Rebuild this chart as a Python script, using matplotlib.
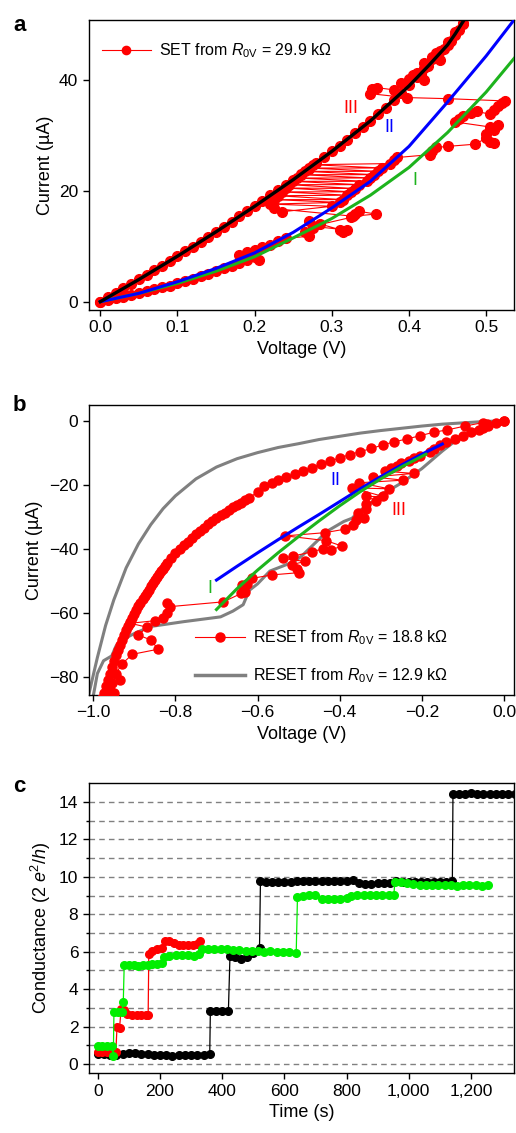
import matplotlib
matplotlib.use("Agg")
import matplotlib.pyplot as plt
import numpy as np

plt.rcParams['font.family'] = ['Liberation Sans', 'DejaVu Sans']
plt.rcParams['mathtext.fontset'] = 'custom'
plt.rcParams['mathtext.rm'] = 'Liberation Sans'
plt.rcParams['mathtext.it'] = 'Liberation Sans:italic'
plt.rcParams['axes.linewidth'] = 1.0

RED = '#ff0000'
BLUE = '#0000ff'
GREEN = '#1db31d'
LIME = '#00ee00'
GRAY = '#808080'

# ---------------- panel a : SET ----------------
fit3_v = [0.0, 0.05, 0.10, 0.15, 0.20, 0.25, 0.30, 0.35, 0.40, 0.425, 0.45, 0.46, 0.47]
fit3_i = [0.0, 4.0, 8.2, 12.6, 17.2, 22.0, 27.1, 32.6, 38.9, 42.5, 46.3, 48.3, 50.5]
fit2_v = [0.0, 0.05, 0.10, 0.15, 0.20, 0.25, 0.30, 0.35, 0.40, 0.45, 0.50, 0.54]
fit2_i = [0.0, 1.5, 3.6, 6.0, 8.8, 12.5, 16.9, 21.7, 28.0, 36.0, 44.3, 51.5]
fit1_v = [0.0, 0.05, 0.10, 0.15, 0.20, 0.25, 0.30, 0.35, 0.40, 0.45, 0.50, 0.54]
fit1_i = [0.0, 1.5, 3.3, 5.5, 8.1, 11.5, 15.0, 19.2, 24.2, 30.5, 37.8, 44.5]

set_up_v = [0.00, 0.01, 0.02, 0.03, 0.04, 0.05, 0.06, 0.07, 0.08, 0.09, 0.10,
            0.11, 0.12, 0.13, 0.14, 0.15, 0.16, 0.17, 0.18, 0.19, 0.20]
set_up_i = [0.0, 0.3, 0.6, 0.9, 1.2, 1.5, 1.9, 2.2, 2.6, 2.9, 3.3,
            3.7, 4.1, 4.6, 5.0, 5.5, 6.0, 6.5, 7.0, 7.5, 8.0]
set_sw_v = [0.205, 0.18, 0.19, 0.20, 0.21, 0.22, 0.23, 0.24,
            0.27, 0.265, 0.275, 0.285, 0.27, 0.31, 0.315, 0.32, 0.275,
            0.325, 0.33, 0.335, 0.357, 0.328,
            0.225, 0.235, 0.30, 0.22, 0.31, 0.225, 0.315, 0.23, 0.32, 0.235, 0.325,
            0.24, 0.33, 0.245, 0.335, 0.25, 0.345, 0.255, 0.35, 0.26, 0.355,
            0.265, 0.36, 0.27, 0.365, 0.275, 0.375, 0.38, 0.385,
            0.427, 0.43, 0.435, 0.45, 0.486, 0.50, 0.505, 0.51, 0.50, 0.51, 0.515, 0.505,
            0.46, 0.465, 0.47, 0.48, 0.488, 0.505, 0.51, 0.515, 0.52, 0.524,
            0.451, 0.397, 0.35, 0.352, 0.358, 0.38, 0.39, 0.40, 0.405, 0.41, 0.415,
            0.42, 0.425, 0.42, 0.43, 0.435, 0.44, 0.445, 0.45, 0.455, 0.46, 0.465, 0.47]
set_sw_i = [7.6, 8.4, 8.9, 9.3, 9.8, 10.3, 10.9, 11.4,
            11.8, 12.5, 13.2, 14.0, 14.6, 13.0, 12.6, 12.9, 13.6,
            15.2, 15.8, 16.3, 15.8, 15.4,
            16.8, 16.2, 17.2, 17.6, 17.9, 18.4, 18.4, 19.1, 19.2, 19.8, 19.8,
            20.5, 20.4, 21.1, 21.1, 21.7, 21.7, 22.3, 22.3, 22.9, 22.9,
            23.5, 23.5, 24.1, 24.1, 24.7, 24.9, 25.5, 26.0,
            26.5, 27.2, 27.8, 28.0, 28.4, 29.5, 28.8, 28.6, 30.2, 31.0, 31.8, 31.5,
            32.4, 33.0, 33.5, 34.0, 34.3, 33.8, 34.6, 35.2, 35.8, 36.2,
            36.6, 36.8, 37.5, 38.3, 38.6, 38.2, 39.5, 40.2, 40.8, 41.3, 41.0,
            40.0, 42.5, 43.0, 44.2, 44.8, 43.6, 45.5, 46.2, 47.0, 48.0, 49.0, 50.0]
set_dn_v = [0.47, 0.46, 0.45, 0.44, 0.43, 0.42, 0.41, 0.40, 0.39, 0.38, 0.37, 0.36,
            0.35, 0.34, 0.33, 0.32, 0.31, 0.30, 0.29, 0.28, 0.27, 0.26, 0.25, 0.24,
            0.23, 0.22, 0.21, 0.20, 0.19, 0.18, 0.17, 0.16, 0.15, 0.14, 0.13, 0.12,
            0.11, 0.10, 0.09, 0.08, 0.07, 0.06, 0.05, 0.04, 0.03, 0.02, 0.01, 0.00]
set_dn_i = [50.3, 48.6, 46.8, 45.2, 43.8, 42.2, 40.6, 39.0, 37.7, 36.4, 35.0, 33.8,
            32.6, 31.5, 30.4, 29.2, 28.1, 27.1, 26.0, 25.0, 24.0, 23.0, 22.0, 21.1,
            20.1, 19.2, 18.2, 17.2, 16.3, 15.4, 14.4, 13.5, 12.6, 11.7, 10.8, 9.9,
            9.1, 8.2, 7.4, 6.5, 5.7, 4.8, 4.0, 3.2, 2.4, 1.6, 0.8, 0.0]

# ---------------- panel b : RESET ----------------
gray_lo_v = [0.0, -0.04, -0.10, -0.15, -0.20, -0.25, -0.28, -0.30, -0.33, -0.35, -0.37,
             -0.39, -0.41, -0.43, -0.45, -0.47, -0.49, -0.51, -0.54, -0.57, -0.60, -0.62,
             -0.635, -0.66, -0.69, -0.78, -0.86, -0.90, -0.93, -0.945, -0.955, -0.975, -0.99, -1.00]
gray_lo_i = [0.0, -1.3, -4.5, -9.5, -15.0, -19.5, -21.8, -23.0, -26.5, -28.0, -30.5,
             -31.5, -33.0, -34.5, -37.0, -39.5, -42.0, -44.0, -45.5, -47.0, -51.0, -53.0,
             -57.5, -59.5, -61.3, -62.8, -64.3, -66.5, -68.5, -70.5, -73.5, -75.0, -79.0, -86.0]
gray_hi_v = [0.0, -0.05, -0.10, -0.15, -0.20, -0.25, -0.30, -0.35, -0.40, -0.45, -0.50,
             -0.55, -0.60, -0.65, -0.70, -0.75, -0.80, -0.83, -0.86, -0.89, -0.92, -0.95,
             -0.97, -0.99, -1.01]
gray_hi_i = [0.0, -0.3, -0.7, -1.1, -1.7, -2.4, -3.1, -3.9, -4.9, -5.9, -7.2,
             -8.4, -10.0, -11.9, -14.5, -18.2, -23.5, -27.5, -32.5, -38.5, -46.0, -56.0,
             -64.0, -74.0, -85.0]
fitb2_v = [-0.70, -0.65, -0.60, -0.55, -0.50, -0.45, -0.40, -0.35, -0.30, -0.25, -0.20, -0.15]
fitb2_i = [-49.8, -45.5, -41.3, -37.2, -33.2, -29.3, -25.3, -21.3, -17.5, -13.9, -10.5, -7.3]
fitb1_v = [-0.70, -0.65, -0.60, -0.55, -0.50, -0.45, -0.40, -0.35, -0.30, -0.25, -0.19]
fitb1_i = [-59.0, -52.5, -46.7, -41.3, -36.2, -31.3, -26.6, -22.2, -18.2, -14.5, -10.5]

reset_lo_v = [0.0, -0.02, -0.04, -0.05, -0.06, -0.08, -0.10, -0.12, -0.14, -0.155, -0.17,
              -0.18, -0.205, -0.22, -0.23, -0.25, -0.26, -0.275, -0.29, -0.22, -0.32,
              -0.245, -0.352, -0.28, -0.37, -0.294, -0.335, -0.312, -0.336, -0.336, -0.355,
              -0.34, -0.36, -0.367, -0.387, -0.436, -0.532, -0.433, -0.394, -0.422, -0.44,
              -0.468, -0.513, -0.539, -0.485, -0.517, -0.505, -0.50, -0.566, -0.614, -0.626,
              -0.639, -0.63, -0.64, -0.683, -0.813, -0.82, -0.82, -0.83, -0.85, -0.91,
              -0.87, -0.89, -0.86, -0.842, -0.905, -0.93, -0.945, -0.935, -0.955, -0.95,
              -0.965, -0.96, -0.975]
reset_lo_i = [0.0, -0.8, -1.6, -2.4, -3.0, -3.6, -4.7, -5.7, -6.6, -7.7, -8.8,
              -9.8, -11.0, -11.8, -12.5, -13.2, -14.3, -14.8, -15.8, -16.5, -17.6,
              -18.6, -19.4, -21.3, -21.0, -23.7, -23.7, -25.0, -26.0, -27.5, -28.7,
              -30.5, -31.0, -32.6, -33.9, -35.0, -36.0, -37.5, -39.2, -40.4, -40.0,
              -41.0, -42.3, -43.0, -44.0, -45.0, -46.5, -47.5, -48.2, -49.3, -51.0,
              -51.3, -53.4, -54.0, -56.6, -58.1, -57.0, -60.0, -61.5, -62.5, -63.3,
              -64.5, -67.0, -68.5, -71.4, -73.0, -76.0, -79.0, -81.0, -82.0, -85.0,
              -87.0, -84.0, -87.0]
reset_hi_v = [-0.98, -0.975, -0.97, -0.965, -0.96, -0.955, -0.95, -0.945, -0.94, -0.935,
              -0.93, -0.925, -0.92, -0.915, -0.91, -0.905, -0.90, -0.895, -0.89, -0.885,
              -0.88, -0.875, -0.87, -0.865, -0.86, -0.855, -0.85, -0.845, -0.84, -0.835,
              -0.83, -0.825, -0.82, -0.81, -0.80, -0.79, -0.78, -0.77,
              -0.76, -0.75, -0.74, -0.73, -0.72, -0.71, -0.70, -0.69, -0.68, -0.67, -0.66,
              -0.65, -0.64, -0.63, -0.62, -0.60, -0.584, -0.565, -0.549, -0.53, -0.51,
              -0.49, -0.468, -0.445, -0.424, -0.40, -0.376, -0.35, -0.323, -0.295, -0.267,
              -0.235, -0.204, -0.17, -0.138, -0.095, -0.05, -0.042, 0.0]
reset_hi_i = [-87.0, -85.0, -83.0, -81.0, -79.0, -77.0, -75.0, -73.2, -71.5, -70.0,
              -68.5, -67.0, -65.5, -64.1, -62.8, -61.5, -60.3, -59.1, -58.0, -56.9,
              -55.8, -54.8, -53.8, -52.8, -51.8, -50.8, -49.8, -48.9, -48.0, -47.1,
              -46.2, -45.3, -44.5, -43.0, -41.5, -40.2, -39.0, -37.8,
              -36.6, -35.5, -34.4, -33.4, -32.4, -31.4, -30.5, -29.6, -28.7, -27.9, -27.1,
              -26.3, -25.6, -24.8, -24.1, -22.3, -20.5, -19.5, -18.5, -17.7, -16.7,
              -15.7, -14.7, -13.6, -12.6, -11.7, -10.6, -9.7, -8.7, -7.6, -6.6,
              -5.7, -4.7, -3.6, -2.9, -1.7, -0.6, -1.0, 0.0]

# ---------------- panel c : conductance ----------------
blk_t = [0, 20, 40, 60, 80, 100, 120, 140, 160, 180, 200, 220, 240, 260, 280, 300, 320, 340, 360,
         362, 380, 400, 420,
         425, 440, 460, 480, 500, 520,
         523, 540, 560, 580, 600, 620, 640, 660, 680, 700, 720, 740, 760, 780, 800, 820,
         840, 860, 880, 900, 920, 940, 960, 980, 1000, 1020, 1040, 1060, 1080, 1100, 1120, 1140,
         1142, 1160, 1180, 1200, 1220, 1240, 1260, 1280, 1300, 1320, 1340]
blk_g = [0.55, 0.55, 0.5, 0.5, 0.55, 0.6, 0.6, 0.55, 0.55, 0.5, 0.5, 0.5, 0.45, 0.5, 0.5, 0.5, 0.5, 0.5, 0.55,
         2.85, 2.85, 2.85, 2.85,
         5.75, 5.7, 5.6, 5.7, 5.95, 6.2,
         9.75, 9.7, 9.7, 9.7, 9.7, 9.7, 9.75, 9.8, 9.8, 9.8, 9.8, 9.8, 9.8, 9.8, 9.8, 9.85,
         9.65, 9.6, 9.6, 9.65, 9.65, 9.65, 9.75, 9.7, 9.7, 9.7, 9.7, 9.7, 9.7, 9.7, 9.7, 9.75,
         14.45, 14.45, 14.45, 14.5, 14.45, 14.45, 14.45, 14.4, 14.45, 14.45, 14.45]
red_t = [0, 15, 30, 45, 58, 62, 70, 75, 85, 95, 110, 125, 140, 155, 162,
         164, 175, 190, 205, 215, 230, 245, 260, 275, 290, 305, 320, 330]
red_g = [0.65, 0.65, 0.65, 0.65, 0.65, 2.0, 1.9, 2.95, 2.9, 2.65, 2.6, 2.6, 2.6, 2.6, 2.6,
         5.85, 6.05, 6.15, 6.2, 6.55, 6.55, 6.45, 6.35, 6.35, 6.35, 6.35, 6.4, 6.55]
grn_t = [0, 15, 30, 45, 50, 52, 65, 78, 82, 85, 100, 115, 130, 145, 160, 175, 190, 205,
         212, 230, 250, 270, 290, 310, 325, 335, 355, 375, 395, 415, 435, 455, 475, 495,
         515, 535, 555, 575, 595, 615, 638, 642, 660, 680, 700, 720, 740, 760, 780, 800,
         815, 835, 855, 875, 895, 915, 935, 952, 955, 975, 995, 1015, 1035, 1055, 1075,
         1095, 1115, 1135, 1155, 1175, 1195, 1215, 1235, 1255]
grn_g = [0.95, 0.95, 0.95, 0.95, 0.45, 2.75, 2.75, 2.8, 3.3, 5.3, 5.3, 5.3, 5.25, 5.3, 5.3, 5.35, 5.35, 5.4,
         5.7, 5.75, 5.8, 5.8, 5.8, 5.75, 5.85, 6.15, 6.15, 6.15, 6.15, 6.15, 6.1, 6.1, 6.05, 6.05,
         6.05, 6.0, 6.05, 6.0, 6.0, 6.0, 5.95, 8.9, 9.0, 9.05, 9.05, 8.8, 8.8, 8.8, 8.8, 8.85,
         9.0, 9.05, 9.05, 9.05, 9.05, 9.05, 9.05, 9.05, 9.7, 9.7, 9.65, 9.6, 9.55, 9.55, 9.55,
         9.55, 9.55, 9.55, 9.5, 9.55, 9.55, 9.55, 9.5, 9.55]

fig = plt.figure(figsize=(5.16, 11.33), dpi=100)
ax_a = fig.add_axes([0.172, 0.7264, 0.824, 0.256])
ax_b = fig.add_axes([0.172, 0.3866, 0.824, 0.256])
ax_c = fig.add_axes([0.172, 0.0527, 0.824, 0.256])

for ax in (ax_a, ax_b, ax_c):
    ax.tick_params(direction='out', length=4, width=1, labelsize=12.5)

# panel a
set_v = np.concatenate([set_up_v, set_sw_v, set_dn_v])
set_i = np.concatenate([set_up_i, set_sw_i, set_dn_i])
ax_a.plot(set_v, set_i, '-o', color=RED, lw=0.8, ms=7, mec=RED,
          label=r'SET from $R_{\rm 0V}$ = 29.9 k$\Omega$', zorder=2)
ax_a.plot(fit1_v, fit1_i, color=GREEN, lw=2.2, zorder=3)
ax_a.plot(fit2_v, fit2_i, color=BLUE, lw=2.2, zorder=3)
ax_a.plot(fit3_v, fit3_i, color='black', lw=2.4, zorder=4)
ax_a.text(0.325, 34.9, 'III', color=RED, fontsize=13, ha='center', va='center')
ax_a.text(0.375, 31.4, 'II', color=BLUE, fontsize=13, ha='center', va='center')
ax_a.text(0.407, 21.8, 'I', color=GREEN, fontsize=13, ha='center', va='center')
ax_a.set_xlim(-0.015, 0.536)
ax_a.set_ylim(-1.5, 50.8)
ax_a.set_xticks([0.0, 0.1, 0.2, 0.3, 0.4, 0.5])
ax_a.set_yticks([0, 20, 40])
ax_a.set_xlabel('Voltage (V)', fontsize=13)
ax_a.set_ylabel('Current (\u00b5A)', fontsize=13)
ax_a.legend(loc='upper left', bbox_to_anchor=(0.03, 0.925), frameon=False,
            fontsize=11.5, handlelength=3.1, handletextpad=0.5, borderpad=0,
            borderaxespad=0, markerscale=0.85)

# panel b
ax_b.plot(gray_lo_v, gray_lo_i, color=GRAY, lw=2.2, zorder=2)
ax_b.plot(gray_hi_v, gray_hi_i, color=GRAY, lw=2.2, zorder=2)
reset_v = np.concatenate([reset_lo_v, reset_hi_v])
reset_i = np.concatenate([reset_lo_i, reset_hi_i])
h_red, = ax_b.plot(reset_v, reset_i, '-o', color=RED, lw=0.8, ms=6.5, mec=RED, zorder=3)
ax_b.plot(fitb2_v, fitb2_i, color=BLUE, lw=2.2, zorder=4)
ax_b.plot(fitb1_v, fitb1_i, color=GREEN, lw=2.2, zorder=4)
h_gray, = ax_b.plot([], [], color=GRAY, lw=2.5)
ax_b.text(-0.411, -18.6, 'II', color=BLUE, fontsize=13, ha='center', va='center')
ax_b.text(-0.257, -28.0, 'III', color=RED, fontsize=13, ha='center', va='center')
ax_b.text(-0.716, -52.5, 'I', color=GREEN, fontsize=13, ha='center', va='center')
ax_b.set_xlim(-1.011, 0.0243)
ax_b.set_ylim(-85.7, 4.9)
ax_b.set_xticks([-1.0, -0.8, -0.6, -0.4, -0.2, 0.0])
ax_b.set_yticks([0, -20, -40, -60, -80])
ax_b.set_xlabel('Voltage (V)', fontsize=13)
ax_b.set_ylabel('Current (\u00b5A)', fontsize=13)
ax_b.legend([h_red, h_gray],
            [r'RESET from $R_{\rm 0V}$ = 18.8 k$\Omega$',
             r'RESET from $R_{\rm 0V}$ = 12.9 k$\Omega$'],
            loc='lower left', bbox_to_anchor=(0.25, 0.035), frameon=False,
            fontsize=11.5, handlelength=3.1, handletextpad=0.5, borderpad=0,
            borderaxespad=0, labelspacing=1.2)

# panel c
for lev in range(15):
    ax_c.axhline(lev, color=GRAY, lw=1.0, ls=(0, (4, 3)), zorder=1)
ax_c.plot(blk_t, blk_g, '-o', color='black', lw=0.9, ms=5.5, mec='black', zorder=3)
ax_c.plot(red_t, red_g, '-o', color=RED, lw=0.9, ms=5.5, mec=RED, zorder=4)
ax_c.plot(grn_t, grn_g, '-o', color=LIME, lw=0.9, ms=5.5, mec=LIME, zorder=5)
ax_c.set_xlim(-29, 1338)
ax_c.set_ylim(-0.5, 15.0)
ax_c.set_xticks([0, 200, 400, 600, 800, 1000, 1200])
ax_c.set_xticklabels(['0', '200', '400', '600', '800', '1,000', '1,200'])
ax_c.set_yticks([0, 2, 4, 6, 8, 10, 12, 14])
ax_c.set_yticks([1, 3, 5, 7, 9, 11, 13], minor=True)
ax_c.tick_params(which='minor', direction='out', length=2.5, width=1)
ax_c.set_xlabel('Time (s)', fontsize=13)
ax_c.set_ylabel(r'Conductance (2 $e^{2}$/$h$)', fontsize=13)

for lab, y in (('a', 0.987), ('b', 0.651), ('c', 0.315)):
    fig.text(0.025, y, lab, fontsize=16, fontweight='bold', va='top', ha='left')

fig.savefig('out.png', dpi=100)
